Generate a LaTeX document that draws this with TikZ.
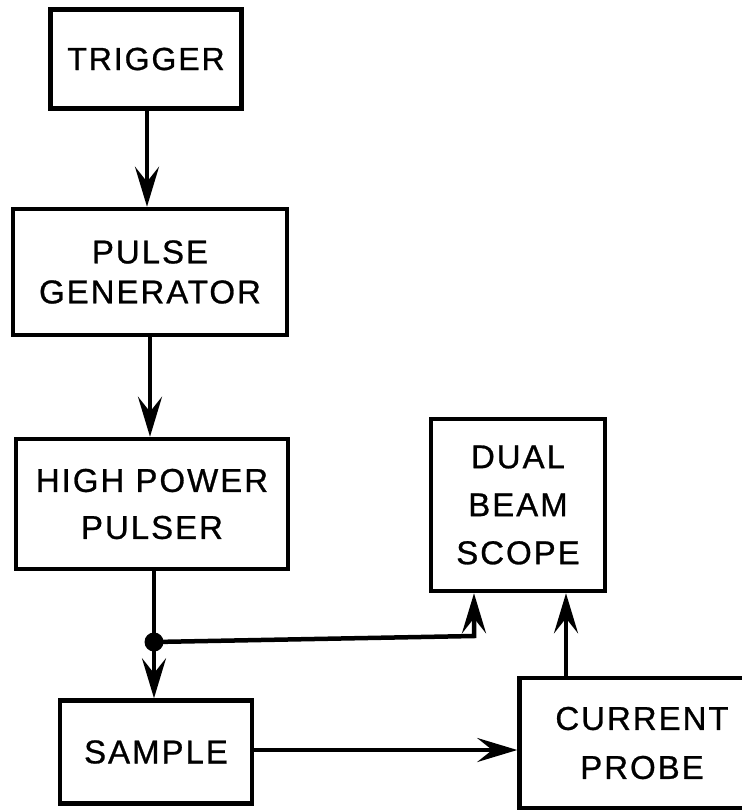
\documentclass[tikz,border=0pt]{standalone}
\usepackage{fontspec}
\setmainfont{Liberation Sans}[LetterSpace=6,FakeBold=0.8]
\usetikzlibrary{arrows.meta}
\begin{document}
\begin{tikzpicture}[x=1pt,y=-1pt,
  blk/.style={draw,line width=4.5pt,inner sep=0pt,align=center},
  conn/.style={line width=4.5pt,-{Stealth[length=40pt,width=24pt,inset=15pt]}},
  wire/.style={line width=4.5pt}]
\useasboundingbox (0,0) rectangle (742,812);
\clip (0,0) rectangle (742,812);
\node[blk,minimum width=191pt,minimum height=99pt,font=\fontsize{32}{40}\selectfont] (trig) at (146,59) {TRIGGER};
\node[blk,minimum width=274pt,minimum height=126pt,font=\fontsize{33}{40}\selectfont] (pg) at (150,272) {PULSE\\GENERATOR};
\node[blk,minimum width=272pt,minimum height=130pt,font=\fontsize{33}{47}\selectfont] (hpp) at (152,504) {HIGH POWER\\PULSER};
\node[blk,minimum width=174pt,minimum height=172pt,font=\fontsize{33}{48}\selectfont] (dbs) at (518,505) {DUAL\\BEAM\\SCOPE};
\node[blk,minimum width=192pt,minimum height=103pt,font=\fontsize{33}{40}\selectfont] (smp) at (156,752) {SAMPLE};
\node[blk,minimum width=245pt,minimum height=130pt,font=\fontsize{33}{49}\selectfont] (cp) at (642,743) {CURRENT\\PROBE};
\coordinate (j) at (154,642);
\draw[conn] (trig.south -| 147,0) -- (147,0 |- pg.north);
\draw[conn] (pg.south -| 150,0) -- (150,0 |- hpp.north);
\draw[wire] (hpp.south -| 154,0) -- (j);
\draw[conn] (j) -- (154,0 |- smp.north);
\fill (j) circle (9.5pt);
\draw[conn] (j) -- (474,636) -- (474,0 |- dbs.south);
\draw[conn] (566,0 |- cp.north) -- (566,0 |- dbs.south);
\draw[conn] (smp.east |- 0,750) -- (cp.west |- 0,750);
\end{tikzpicture}
\end{document}
